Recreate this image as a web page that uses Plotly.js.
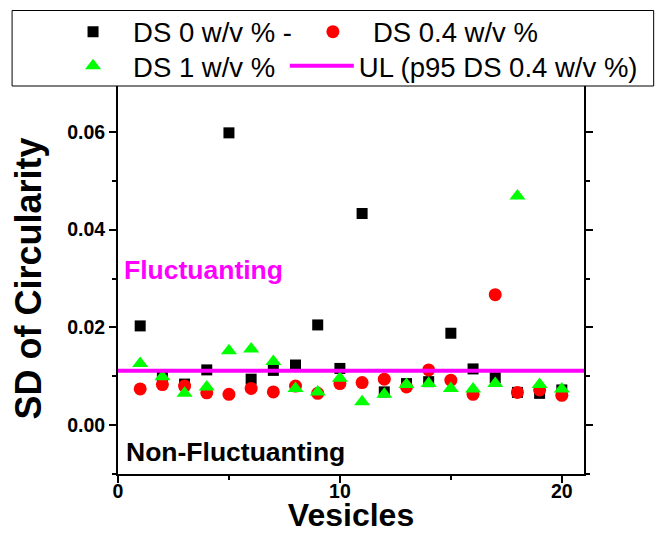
<!DOCTYPE html>
<html>
<head>
<meta charset="utf-8">
<script src="https://cdn.plot.ly/plotly-3.0.1.min.js"></script>
<style>html,body{margin:0;padding:0;background:#fff;}#chart{width:655px;height:533px;}</style>
</head>
<body>
<div id="chart"></div>
<script>
const vesicles = [1,2,3,4,5,6,7,8,9,10,11,12,13,14,15,16,17,18,19,20];
const ds0  = [0.0203,0.0100,0.0084,0.0113,0.0598,0.0094,0.0112,0.0123,0.0205,0.0116,0.0433,0.0068,0.0085,0.0089,0.0188,0.0115,0.0097,0.0067,0.0065,0.0072];
const ds04 = [0.0074,0.0083,0.0080,0.0066,0.0063,0.0075,0.0068,0.0080,0.0065,0.0085,0.0087,0.0094,0.0078,0.0113,0.0092,0.0063,0.0267,0.0067,0.0072,0.0061];
const ds1  = [0.0126,0.0099,0.0065,0.0078,0.0152,0.0156,0.0130,0.0075,0.0068,0.0096,0.0048,0.0063,0.0083,0.0085,0.0075,0.0074,0.0085,0.0469,0.0083,0.0074];
const ulValue = 0.0111;
const ulX = [0, 21];
const seriesNames = ['DS 0 w/v % -','DS 0.4 w/v %','DS 1 w/v %','UL (p95 DS 0.4 w/v %)'];

const FONT = 'Arial, "Liberation Sans", sans-serif';

const traces = [
  {x: vesicles, y: ds0, name: seriesNames[0], type:'scatter', mode:'markers',
   marker:{symbol:'square', size:11, color:'#000000'}, legend:'legend'},
  {x: vesicles, y: ds04, name: seriesNames[1], type:'scatter', mode:'markers',
   marker:{symbol:'circle', size:13, color:'#ff0000'}, legend:'legend2'},
  {x: vesicles, y: ds1, name: seriesNames[2], type:'scatter', mode:'markers',
   marker:{symbol:'triangle-up', size:14, color:'#00ff00'}, legend:'legend3'},
  {x: ulX, y: ulX.map(()=>ulValue), name: seriesNames[3], type:'scatter', mode:'lines',
   line:{color:'#ff00ff', width:4}, legend:'legend4'}
];

const legFont = {family: FONT, size: 27.5, color:'#000'};
function leg(x, y, iw){
  return {x:x, y:y, xanchor:'left', yanchor:'middle', bgcolor:'rgba(0,0,0,0)',
          borderwidth:0, font:legFont, itemwidth: iw, orientation:'v', tracegroupgap:0};
}

const layout = {
  width:655, height:533,
  margin:{l:118, r:71, t:83, b:59, pad:0, autoexpand:false},
  paper_bgcolor:'#fff', plot_bgcolor:'#fff',
  showlegend:true,
  font:{family: FONT},
  xaxis:{
    range:[0,21], dtick:10, tick0:0,
    showgrid:false, zeroline:false,
    showline:true, linecolor:'#000', linewidth:2, mirror:'allticks',
    ticks:'outside', ticklen:7, tickwidth:2, tickcolor:'#000',
    minor:{dtick:5, ticks:'outside', ticklen:4, tickwidth:2, tickcolor:'#000'},
    tickfont:{family:FONT, size:19.5, weight:'bold', color:'#000'},
    ticklabelstandoff:-8,
    title:{text:'Vesicles', font:{family:FONT, size:32, weight:'bold', color:'#000'}, standoff:17}
  },
  yaxis:{
    range:[-0.01,0.07], dtick:0.02, tick0:0, tickformat:'.2f',
    showgrid:false, zeroline:false,
    showline:true, linecolor:'#000', linewidth:2, mirror:'allticks',
    ticks:'outside', ticklen:7, tickwidth:2, tickcolor:'#000',
    minor:{dtick:0.01, ticks:'outside', ticklen:4, tickwidth:2, tickcolor:'#000'},
    tickfont:{family:FONT, size:19.5, weight:'bold', color:'#000'},
    title:{text:'SD of Circularity', font:{family:FONT, size:36, weight:'bold', color:'#000'}, standoff:15}
  },
  legend:  leg(-0.1394, 1.131, 70),
  legend2: leg(0.3753, 1.131, 70),
  legend3: leg(-0.1394, 1.0436, 70),
  legend4: leg(0.358, 1.0436, 64),
  shapes:[
    {type:'rect', xref:'paper', yref:'paper', x0:-0.2273, x1:1.1495, y0:0.9923, y1:1.1854,
     line:{color:'#000', width:1}, fillcolor:'#fff', layer:'above'}
  ],
  annotations:[
    {x:0.2, y:0.0317, xref:'x', yref:'y', xanchor:'left', yanchor:'middle', showarrow:false,
     text:'Fluctuanting', font:{family:FONT, size:26.5, weight:'bold', color:'#ff00ff'}},
    {x:0.28, y:-0.0055, xref:'x', yref:'y', xanchor:'left', yanchor:'middle', showarrow:false,
     text:'Non-Fluctuanting', font:{family:FONT, size:26.5, weight:'bold', color:'#000'}}
  ]
};

Plotly.newPlot('chart', traces, layout, {displayModeBar:false, staticPlot:true});
</script>
</body>
</html>
